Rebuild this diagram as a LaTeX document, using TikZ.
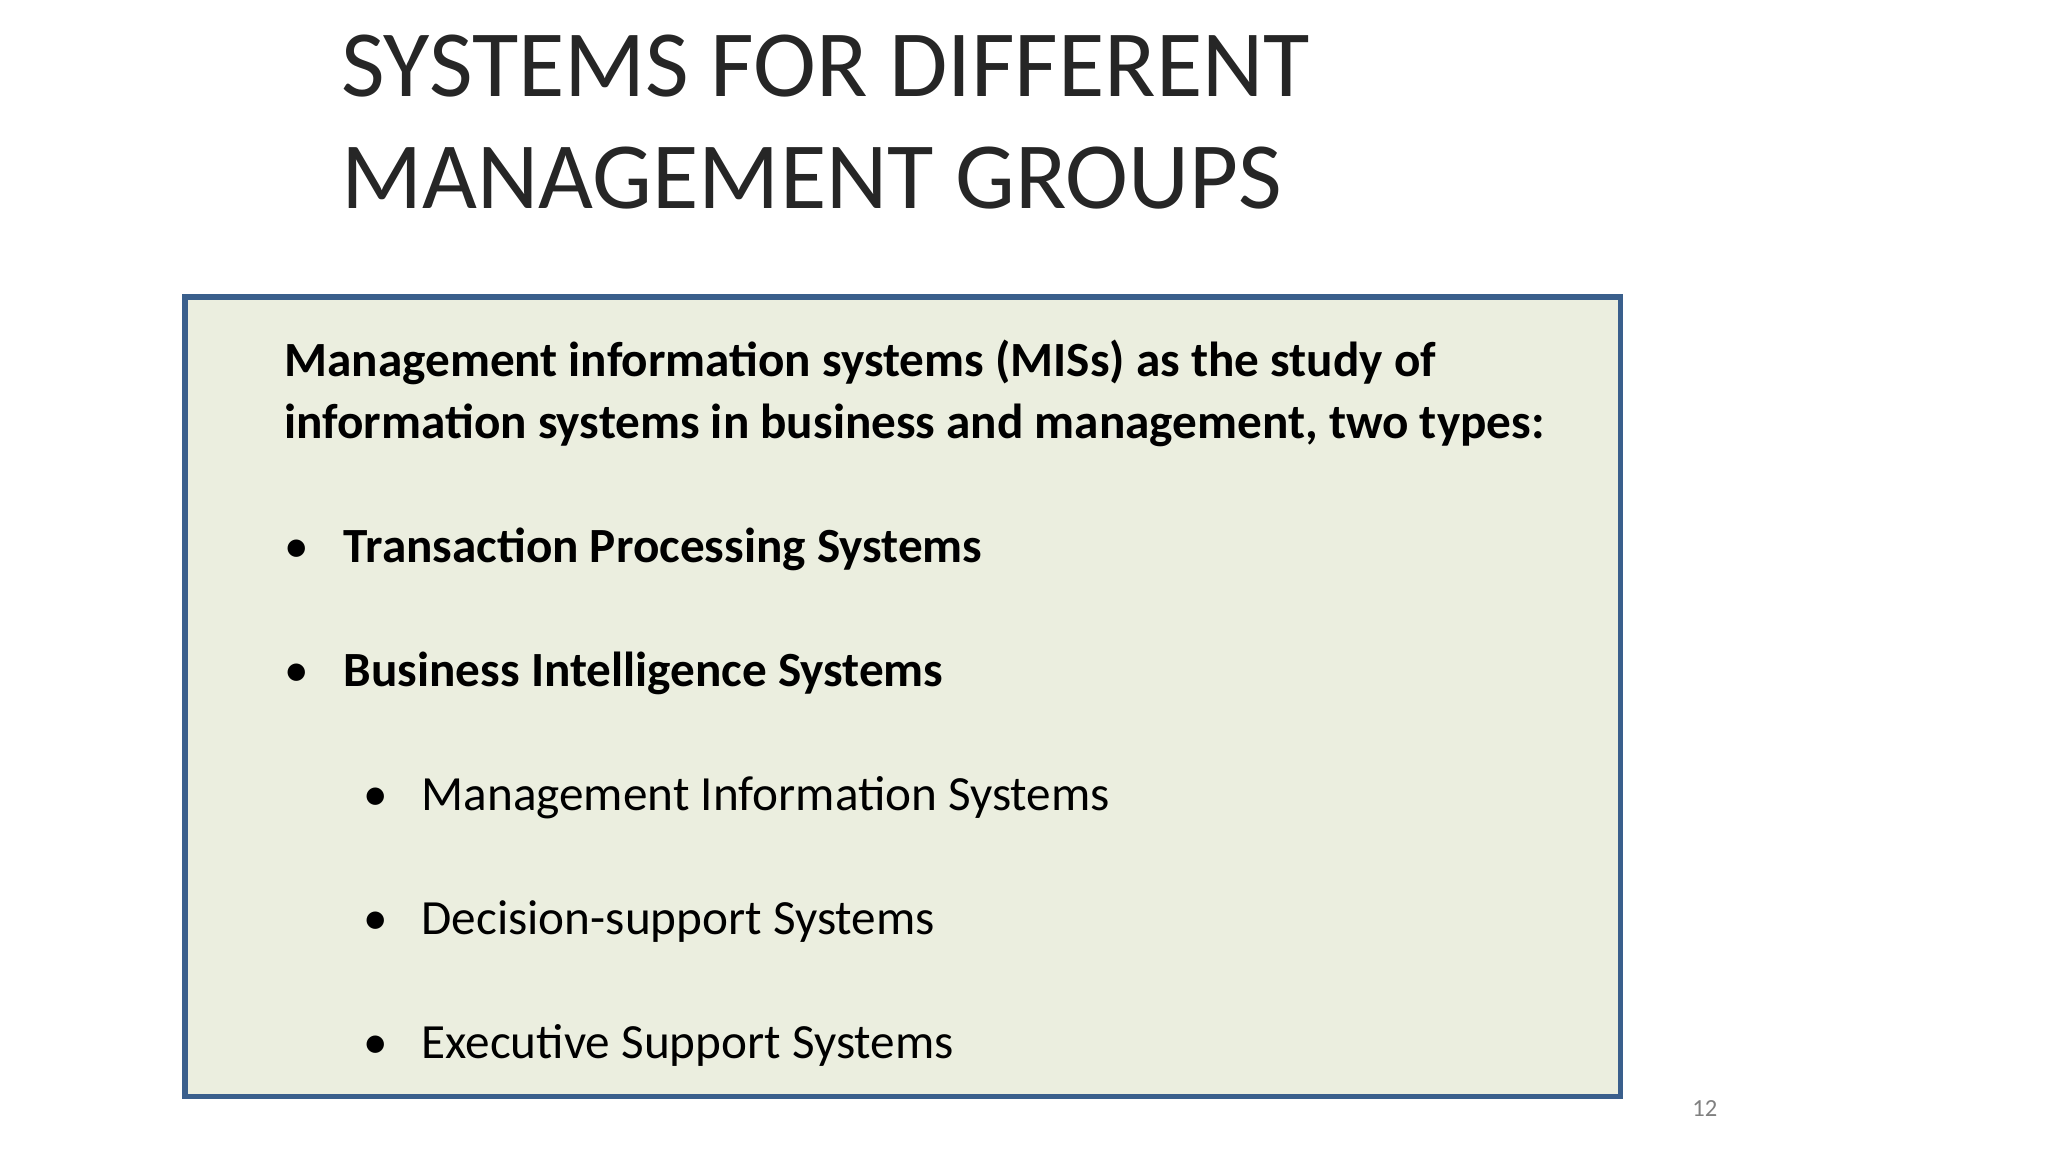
\documentclass[tikz,border=0pt]{standalone}
\usepackage{fontspec}
\setmainfont{Carlito}
\begin{document}
\begin{tikzpicture}[x=0.013196cm,y=-0.013196cm,
  t/.style={anchor=base west,inner sep=0pt},
  title/.style={t,font=\fontsize{27}{30}\selectfont,text=black!85},
  bold/.style={t,font=\fontsize{14}{17}\selectfont\bfseries},
  reg/.style={t,font=\fontsize{14}{17}\selectfont},
  dot/.style={t,font=\fontsize{14}{17}\selectfont}]
\useasboundingbox (0,0) rectangle (1552,873);
\draw[draw={rgb,255:red,58;green,95;blue,140},line width=1.6pt,fill={rgb,255:red,235;green,238;blue,223}] (140,225) rectangle (1228,831);
\node[title] (t1) at (258,73) {SYSTEMS FOR DIFFERENT};
\node[title] (t2) at (258,158) {MANAGEMENT GROUPS};
\node[bold] (l1) at (215,285) {Management information systems (MISs) as the study of};
\node[bold] (l2) at (215,332) {information systems in business and management, two types:};
\node[dot] (b1) at (215,426) {•};
\node[bold] (i1) at (260,426) {Transaction Processing Systems};
\node[dot] (b2) at (215,520) {•};
\node[bold] (i2) at (260,520) {Business Intelligence Systems};
\node[dot] (b3) at (275,614) {•};
\node[reg] (s1) at (319,614) {Management Information Systems};
\node[dot] (b4) at (275,708) {•};
\node[reg] (s2) at (319,708) {Decision-support Systems};
\node[dot] (b5) at (275,802) {•};
\node[reg] (s3) at (319,802) {Executive Support Systems};
\node[t,font=\fontsize{7}{8}\selectfont,text=black!50] (pg) at (1282,846) {12};
\end{tikzpicture}
\end{document}
